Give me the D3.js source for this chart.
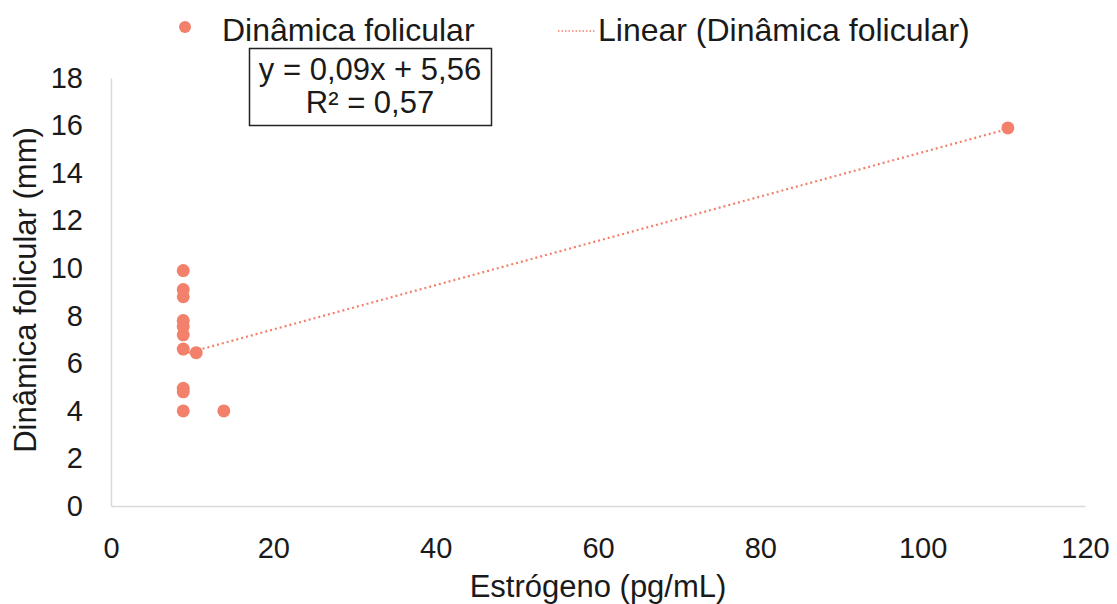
<!DOCTYPE html>
<html>
<head>
<meta charset="utf-8">
<script src="https://cdn.jsdelivr.net/npm/d3@7"></script>
<style>
  body { margin: 0; background: #fff; }
  text { font-family: "Liberation Sans", Arial, sans-serif; fill: #1a1a1a; }
</style>
</head>
<body>
<div id="chart"></div>
<script>
// values
const estrogeno = [8.9, 8.9, 8.9, 8.9, 8.9, 8.9, 8.9, 8.9, 8.9, 8.9, 10.5, 13.9, 110.5];
const dinamica  = [9.9, 9.1, 8.8, 7.8, 7.55, 7.2, 6.6, 4.95, 4.8, 4.0, 6.45, 4.0, 15.9];
const xTicks = [0, 20, 40, 60, 80, 100, 120];
const yTicks = [0, 2, 4, 6, 8, 10, 12, 14, 16, 18];
// trendline shown as y = 0,09x + 5,56
const trendSlope = 0.0932;
const trendIntercept = 5.56;
const eqLines = ["y = 0,09x + 5,56", "R² = 0,57"];

const W = 1117, H = 604;
const color = "#f2806a";

const svg = d3.select("#chart").append("svg")
    .attr("width", W).attr("height", H);

const x = d3.scaleLinear().domain([0, 120]).range([111, 1085]);
const y = d3.scaleLinear().domain([0, 18]).range([506, 78]);

// axes
const xAxis = svg.append("g")
    .attr("transform", "translate(0," + y(0) + ")")
    .call(d3.axisBottom(x).tickValues(xTicks).tickSize(0).tickPadding(31));
xAxis.select(".domain").attr("stroke", "#d9d9d9").attr("stroke-width", 1.5);
xAxis.selectAll("text").style("font-size", "29px").attr("fill", "#1a1a1a")
    .style("font-family", "Liberation Sans, Arial, sans-serif");

const yAxis = svg.append("g")
    .attr("transform", "translate(" + x(0) + ",0)")
    .call(d3.axisLeft(y).tickValues(yTicks).tickSize(0).tickPadding(28));
yAxis.select(".domain").attr("stroke", "#d9d9d9").attr("stroke-width", 1.5);
yAxis.selectAll("text").style("font-size", "29px").attr("fill", "#1a1a1a")
    .style("font-family", "Liberation Sans, Arial, sans-serif");

// axis titles
svg.append("text")
    .attr("x", 598).attr("y", 597)
    .attr("text-anchor", "middle")
    .style("font-size", "31px")
    .text("Estrógeno (pg/mL)");

svg.append("text")
    .attr("transform", "translate(36,290) rotate(-90)")
    .attr("text-anchor", "middle")
    .style("font-size", "31px")
    .text("Dinâmica folicular (mm)");

// trendline
const xmin = d3.min(estrogeno), xmax = d3.max(estrogeno);
svg.append("line")
    .attr("x1", x(xmin)).attr("y1", y(trendSlope * xmin + trendIntercept))
    .attr("x2", x(xmax)).attr("y2", y(trendSlope * xmax + trendIntercept))
    .attr("stroke", color)
    .attr("stroke-width", 2.2)
    .attr("stroke-dasharray", "2,3");

// points
svg.append("g").selectAll("circle")
    .data(estrogeno.map((v, i) => [v, dinamica[i]]))
    .enter().append("circle")
    .attr("cx", d => x(d[0]))
    .attr("cy", d => y(d[1]))
    .attr("r", 6.5)
    .attr("fill", color);

// equation box
const box = svg.append("g");
box.append("rect")
    .attr("x", 249.5).attr("y", 48.5)
    .attr("width", 242).attr("height", 77)
    .attr("fill", "#fff").attr("stroke", "#222").attr("stroke-width", 1.5);
box.selectAll("text.eq").data(eqLines).enter().append("text")
    .attr("class", "eq")
    .attr("x", 370)
    .attr("y", (d, i) => 80 + i * 33)
    .attr("text-anchor", "middle")
    .style("font-size", "31px")
    .text(d => d);

// legend
const legend = svg.append("g");
legend.append("circle").attr("cx", 185).attr("cy", 27).attr("r", 6).attr("fill", color);
legend.append("text").attr("x", 222).attr("y", 41).style("font-size", "32px").text("Dinâmica folicular");
legend.append("line")
    .attr("x1", 558).attr("x2", 596).attr("y1", 31).attr("y2", 31)
    .attr("stroke", color).attr("stroke-width", 1.5).attr("stroke-dasharray", "1.5,2");
legend.append("text").attr("x", 598).attr("y", 41).style("font-size", "32px").text("Linear (Dinâmica folicular)");
</script>
</body>
</html>
